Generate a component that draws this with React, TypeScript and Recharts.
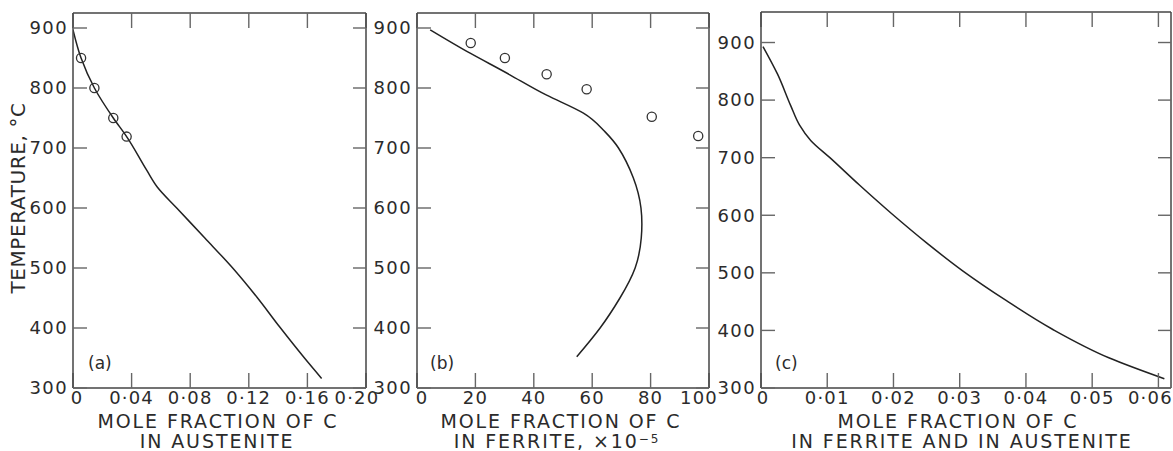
import { ComposedChart, Line, Scatter, XAxis, YAxis } from 'recharts';

// temperature axis shared by the three panels
const tempTicks = [300, 400, 500, 600, 700, 800, 900];

// (a) austenite
const austeniteTicks = [0, 0.04, 0.08, 0.12, 0.16, 0.2];
const austeniteTickLabels = ['0', '0·04', '0·08', '0·12', '0·16', '0·20'];
const austeniteCurve = [
  { x: 0, t: 897 },
  { x: 0.0055, t: 850 },
  { x: 0.0146, t: 800 },
  { x: 0.0275, t: 750 },
  { x: 0.0366, t: 719 },
  { x: 0.0503, t: 663 },
  { x: 0.0575, t: 635 },
  { x: 0.0708, t: 600 },
  { x: 0.09, t: 550 },
  { x: 0.109, t: 500 },
  { x: 0.126, t: 450 },
  { x: 0.141, t: 402 },
  { x: 0.158, t: 350 },
  { x: 0.1697, t: 316 },
];
const austenitePoints = [
  { x: 0.0055, t: 850 },
  { x: 0.0146, t: 800 },
  { x: 0.0275, t: 750 },
  { x: 0.0366, t: 719 },
];

// (b) ferrite, x10^-5
const ferriteTicks = [0, 20, 40, 60, 80, 100];
const ferriteTickLabels = ['0', '20', '40', '60', '80', '100'];
const ferriteCurve = [
  { x: 4.5, t: 897 },
  { x: 18.2, t: 858 },
  { x: 31.8, t: 822 },
  { x: 44.4, t: 788 },
  { x: 57, t: 758 },
  { x: 63.8, t: 730 },
  { x: 69, t: 700 },
  { x: 74.1, t: 650 },
  { x: 76.7, t: 600 },
  { x: 76.8, t: 550 },
  { x: 74.7, t: 500 },
  { x: 69.5, t: 450 },
  { x: 62.7, t: 400 },
  { x: 54.7, t: 352 },
];
const ferritePoints = [
  { x: 18.4, t: 875 },
  { x: 30.1, t: 850 },
  { x: 44.4, t: 823 },
  { x: 58.1, t: 798 },
  { x: 80.4, t: 752 },
  { x: 96.3, t: 720 },
];

// (c) ferrite and austenite
const bothTicks = [0, 0.01, 0.02, 0.03, 0.04, 0.05, 0.06];
const bothTickLabels = ['0', '0·01', '0·02', '0·03', '0·04', '0·05', '0·06'];
const bothCurve = [
  { x: 0.0003, t: 893 },
  { x: 0.0025, t: 845 },
  { x: 0.0045, t: 790 },
  { x: 0.0058, t: 757 },
  { x: 0.0075, t: 730 },
  { x: 0.0104, t: 700 },
  { x: 0.0149, t: 652 },
  { x: 0.0197, t: 603 },
  { x: 0.025, t: 552 },
  { x: 0.0305, t: 503 },
  { x: 0.037, t: 452 },
  { x: 0.044, t: 402 },
  { x: 0.0526, t: 352 },
  { x: 0.0609, t: 316 },
];

const FONT = '"DejaVu Sans", sans-serif';
const INK = '#2b2b2b';
const H = 451;
const PLOT_BOTTOM = 388;

type Pt = { x: number; t: number };

interface PanelProps {
  left: number;
  width: number;
  plotLeft: number;
  plotRight: number;
  top: number;
  xDomain: [number, number];
  yDomain: [number, number];
  xTicks: number[];
  xLabels: string[];
  curve: Pt[];
  curveType: any;
  points?: Pt[];
  firstDx: number;
  lastDx: number;
}

function Circle(props: any) {
  return <circle cx={props.cx} cy={props.cy} r={4.6} fill="none" stroke="#333" strokeWidth={1.3} />;
}

const blank = () => '';

function Panel(p: PanelProps) {
  const { left, width, plotLeft, plotRight, top, xDomain, yDomain, xTicks, xLabels, curve, curveType, points } = p;
  const yAxisW = 40;
  const xAxisH = 30;
  const margin = {
    left: plotLeft - left - yAxisW,
    right: width - (plotRight - left),
    top,
    bottom: H - PLOT_BOTTOM - xAxisH,
  };
  const frame = { stroke: '#444', strokeWidth: 1.5 };
  const tickLn = { stroke: '#666', strokeWidth: 1.4 };
  const tickTxt = { fill: INK, fontSize: 18, fontFamily: FONT, letterSpacing: 1.4 };

  // bottom tick labels, the outermost ones nudged inwards like the original lettering
  const XTick = (t: any) => {
    const i = xTicks.findIndex((k) => Math.abs(k - t.payload.value) < 1e-9);
    const dx = i === 0 ? p.firstDx : i === xTicks.length - 1 ? p.lastDx : 0;
    return (
      <text x={t.x + dx} y={t.y} dy="0.71em" textAnchor="middle" fill={INK} fontSize={18}
        fontFamily={FONT} style={{ letterSpacing: 1.2 }}>
        {i >= 0 ? xLabels[i] : String(t.payload.value)}
      </text>
    );
  };

  return (
    <div style={{ position: 'absolute', left, top: 0 }}>
      <ComposedChart width={width} height={H} margin={margin}>
        <XAxis xAxisId="main" type="number" dataKey="x" domain={xDomain} allowDataOverflow ticks={xTicks}
          interval={0} tickSize={0} tickMargin={3} height={xAxisH}
          axisLine={frame} tickLine={false} tick={XTick} />
        <XAxis xAxisId="btm" mirror orientation="bottom" type="number" dataKey="x" domain={xDomain}
          allowDataOverflow ticks={xTicks} interval={0} tickFormatter={blank} tickSize={15} axisLine={false} tickLine={tickLn} />
        <XAxis xAxisId="top" mirror orientation="top" type="number" dataKey="x" domain={xDomain}
          allowDataOverflow ticks={xTicks} interval={0} tickFormatter={blank} tickSize={15} axisLine={frame} tickLine={tickLn} />
        <YAxis yAxisId="main" type="number" dataKey="t" domain={yDomain} allowDataOverflow ticks={tempTicks}
          interval={0} width={yAxisW} tickSize={0} tickMargin={5} axisLine={frame} tickLine={false} tick={tickTxt} />
        <YAxis yAxisId="lft" mirror orientation="left" type="number" dataKey="t" domain={yDomain}
          allowDataOverflow ticks={tempTicks} interval={0} tickFormatter={blank} tickSize={14} axisLine={false} tickLine={tickLn} />
        <YAxis yAxisId="rgt" mirror orientation="right" type="number" dataKey="t" domain={yDomain}
          allowDataOverflow ticks={tempTicks} interval={0} tickFormatter={blank} tickSize={13} axisLine={frame} tickLine={tickLn} />

        <Line xAxisId="btm" yAxisId="lft" data={curve} dataKey="t" stroke="none" dot={false} activeDot={false} isAnimationActive={false} />
        <Line xAxisId="top" yAxisId="rgt" data={curve} dataKey="t" stroke="none" dot={false} activeDot={false} isAnimationActive={false} />

        <Line xAxisId="main" yAxisId="main" data={curve} dataKey="t" type={curveType} stroke="#222"
          strokeWidth={1.5} dot={false} activeDot={false} isAnimationActive={false} />
        {points && (
          <Scatter xAxisId="main" yAxisId="main" data={points} dataKey="t" shape={Circle} isAnimationActive={false} />
        )}
      </ComposedChart>
    </div>
  );
}

const titleStyle = (cx: number, top: number): React.CSSProperties => ({
  position: 'absolute',
  left: cx - 250,
  width: 500,
  top,
  textAlign: 'center',
  fontSize: 19,
  lineHeight: '19px',
  letterSpacing: 1.9,
  color: INK,
  fontFamily: FONT,
  whiteSpace: 'nowrap',
});

const tagStyle = (x: number): React.CSSProperties => ({
  position: 'absolute',
  left: x,
  top: 355,
  fontSize: 17,
  lineHeight: '17px',
  color: INK,
  fontFamily: FONT,
});

export default function App() {
  return (
    <div style={{ position: 'absolute', left: 0, top: 0, width: 1173, height: H, background: '#fff', overflow: 'hidden' }}>
      <Panel left={0} width={395} plotLeft={73} plotRight={366} top={13} xDomain={[0, 0.2]} yDomain={[300, 925]}
        xTicks={austeniteTicks} xLabels={austeniteTickLabels} curve={austeniteCurve} curveType="monotoneY"
        points={austenitePoints} firstDx={4} lastDx={-9} />
      <Panel left={370} width={365} plotLeft={417} plotRight={709} top={13} xDomain={[0, 100]} yDomain={[300, 925]}
        xTicks={ferriteTicks} xLabels={ferriteTickLabels} curve={ferriteCurve} curveType="natural"
        points={ferritePoints} firstDx={5} lastDx={-10} />
      <Panel left={715} width={458} plotLeft={761} plotRight={1171} top={12} xDomain={[0, 0.0619]} yDomain={[300, 953]}
        xTicks={bothTicks} xLabels={bothTickLabels} curve={bothCurve} curveType="monotoneY"
        firstDx={2} lastDx={-8} />

      <div style={{
        position: 'absolute', left: 17.5 - 150, top: 198 - 10, width: 300, height: 20, lineHeight: '20px',
        textAlign: 'center', transform: 'rotate(-90deg)', fontSize: 20, letterSpacing: 0.6, color: INK, fontFamily: FONT,
        whiteSpace: 'nowrap',
      }}>
        TEMPERATURE, °C
      </div>

      <div style={titleStyle(218, 412)}>MOLE FRACTION OF C</div>
      <div style={titleStyle(217, 432)}>IN AUSTENITE</div>
      <div style={titleStyle(561, 412)}>MOLE FRACTION OF C</div>
      <div style={titleStyle(557, 432)}>
        IN FERRITE, ×10<span style={{ fontSize: 12, position: 'relative', top: -5 }}>−5</span>
      </div>
      <div style={titleStyle(958, 412)}>MOLE FRACTION OF C</div>
      <div style={titleStyle(962, 432)}>IN FERRITE AND IN AUSTENITE</div>

      <div style={tagStyle(88)}>(a)</div>
      <div style={tagStyle(430)}>(b)</div>
      <div style={tagStyle(775)}>(c)</div>
    </div>
  );
}
